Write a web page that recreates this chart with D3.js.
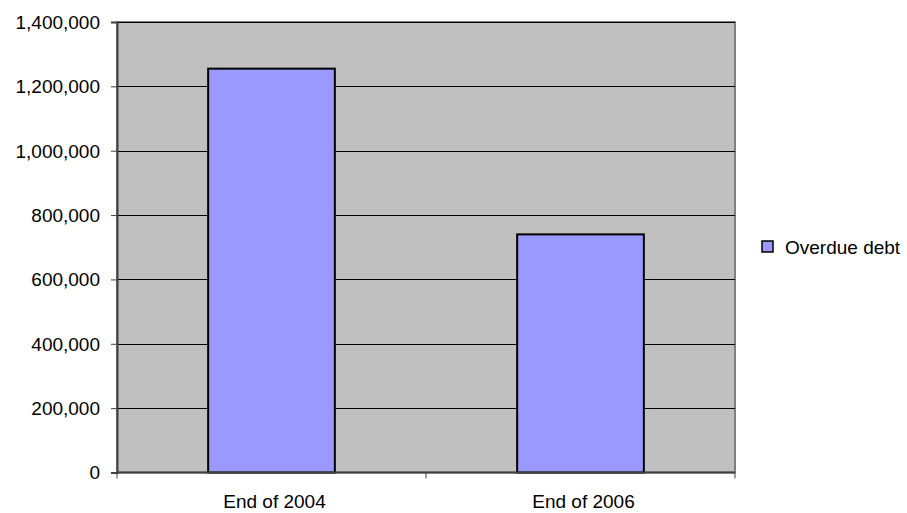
<!DOCTYPE html>
<html>
<head>
<meta charset="utf-8">
<script src="https://cdn.jsdelivr.net/npm/d3@7"></script>
<style>
  html, body { margin: 0; padding: 0; background: #fff; }
  svg text { font-family: "Liberation Sans", Arial, sans-serif; fill: #000; }
</style>
</head>
<body>
<svg id="chart" width="907" height="513"></svg>
<script>
// Overdue debt at year end
const categories = ["End of 2004", "End of 2006"];
const overdueDebt = [1255000, 740000];
const yTicks = [0, 200000, 400000, 600000, 800000, 1000000, 1200000, 1400000];
const seriesName = "Overdue debt";

const svg = d3.select("#chart");
const plot = { left: 117, right: 735, top: 22, bottom: 472.5 };
const fontSize = 19;

const x = d3.scaleBand()
  .domain(categories)
  .range([plot.left, plot.right])
  .paddingInner(0.59)
  .paddingOuter(0.295);

const y = d3.scaleLinear()
  .domain([0, 1400000])
  .range([plot.bottom, plot.top]);

// plot background
svg.append("rect")
  .attr("x", plot.left).attr("y", plot.top)
  .attr("width", plot.right - plot.left).attr("height", plot.bottom - plot.top)
  .attr("fill", "#c0c0c0")
  .attr("stroke", "#808080").attr("stroke-width", 2);

// horizontal gridlines
svg.append("g")
  .selectAll("line")
  .data(yTicks.filter(d => d > 0))
  .join("line")
  .attr("x1", plot.left).attr("x2", plot.right)
  .attr("y1", d => Math.round(y(d)) + 0.5).attr("y2", d => Math.round(y(d)) + 0.5)
  .attr("stroke", "#000").attr("stroke-width", 1);

// bars
svg.append("g")
  .selectAll("rect")
  .data(categories.map((c, i) => ({ c, v: overdueDebt[i] })))
  .join("rect")
  .attr("x", d => x(d.c))
  .attr("y", d => y(d.v))
  .attr("width", x.bandwidth())
  .attr("height", d => plot.bottom - y(d.v))
  .attr("fill", "#9999ff")
  .attr("stroke", "#000").attr("stroke-width", 2);

// y axis
const yAxis = d3.axisLeft(y)
  .tickValues(yTicks)
  .tickFormat(d3.format(",.0f"))
  .tickSize(6)
  .tickPadding(11);
const gy = svg.append("g")
  .attr("transform", `translate(${plot.left},0)`)
  .call(yAxis);
gy.select(".domain").attr("stroke", "#404040").attr("stroke-width", 2);
gy.selectAll(".tick line").attr("stroke", "#404040");
gy.selectAll(".tick text")
  .attr("font-size", fontSize)
  .attr("dy", "0.34em")
  .style("font-family", "'Liberation Sans', Arial, sans-serif");

// x axis with ticks at category boundaries
const gx = svg.append("g")
  .attr("transform", `translate(0,${plot.bottom})`);
gx.append("line")
  .attr("x1", plot.left).attr("x2", plot.right)
  .attr("stroke", "#404040").attr("stroke-width", 2);
const boundaries = d3.range(categories.length + 1).map(i => plot.left + i * (plot.right - plot.left) / categories.length);
gx.selectAll("line.tick")
  .data(boundaries)
  .join("line")
  .attr("class", "tick")
  .attr("x1", d => d).attr("x2", d => d)
  .attr("y1", 0).attr("y2", 6)
  .attr("stroke", "#404040");
gx.selectAll("text")
  .data(categories)
  .join("text")
  .attr("x", d => x(d) + x.bandwidth() / 2 + 3)
  .attr("y", 35)
  .attr("text-anchor", "middle")
  .attr("font-size", fontSize)
  .text(d => d);

// legend
const lg = svg.append("g").attr("transform", "translate(762,241)");
lg.append("rect")
  .attr("width", 11).attr("height", 11)
  .attr("fill", "#9999ff").attr("stroke", "#000").attr("stroke-width", 1.5);
lg.append("text")
  .attr("x", 23).attr("y", 12.5)
  .attr("font-size", fontSize)
  .text(seriesName);
</script>
</body>
</html>
